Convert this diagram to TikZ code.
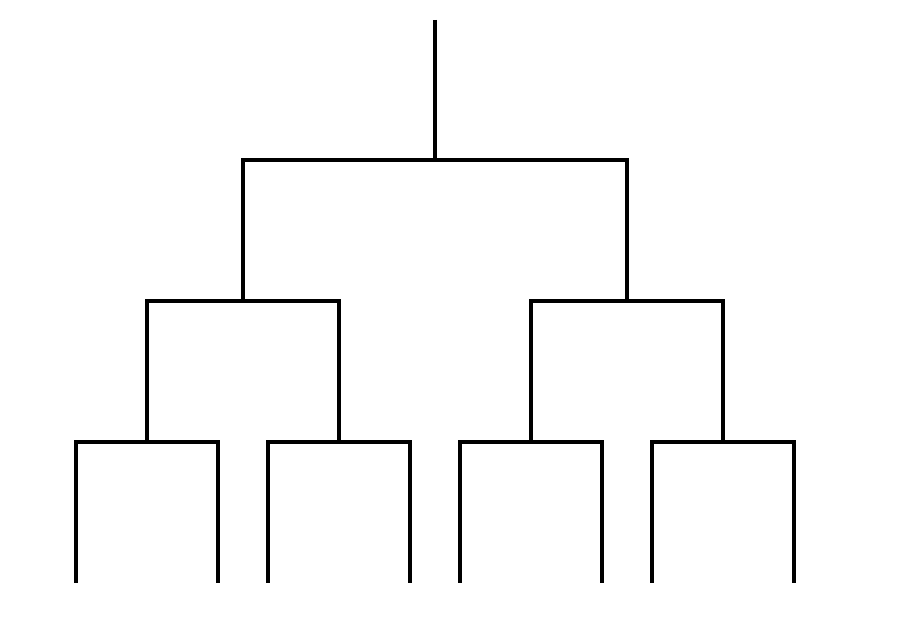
\documentclass[tikz,border=0pt]{standalone}
\usepackage{tikz}

\begin{document}
\begin{tikzpicture}[x=0.02cm, y=-0.02cm, branch/.style={line width=2pt, line join=miter}]
        \useasboundingbox (0,0) rectangle (910,621);

        % Junctions of the tree
        \coordinate (top) at (435,20);
        \coordinate (r) at (435,160);
        \coordinate (a) at (243,301);
        \coordinate (b) at (627,301);
        \foreach \n/\x in {aa/147, ab/339, ba/531, bb/723} {
            \coordinate (\n) at (\x,442);
        }

        % Leaves
        \foreach \n/\x in {aa1/76, aa2/218, ab1/268, ab2/410, ba1/460, ba2/602, bb1/652, bb2/794} {
            \coordinate (\n) at (\x,583);
        }

        % Branches
        \draw[branch] (top) -- (r);
        \foreach \p/\c in {r/a, r/b, a/aa, a/ab, b/ba, b/bb,
                           aa/aa1, aa/aa2, ab/ab1, ab/ab2, ba/ba1, ba/ba2, bb/bb1, bb/bb2} {
            \draw[branch] (\p) -| (\c);
        }
    \end{tikzpicture}
\end{document}
